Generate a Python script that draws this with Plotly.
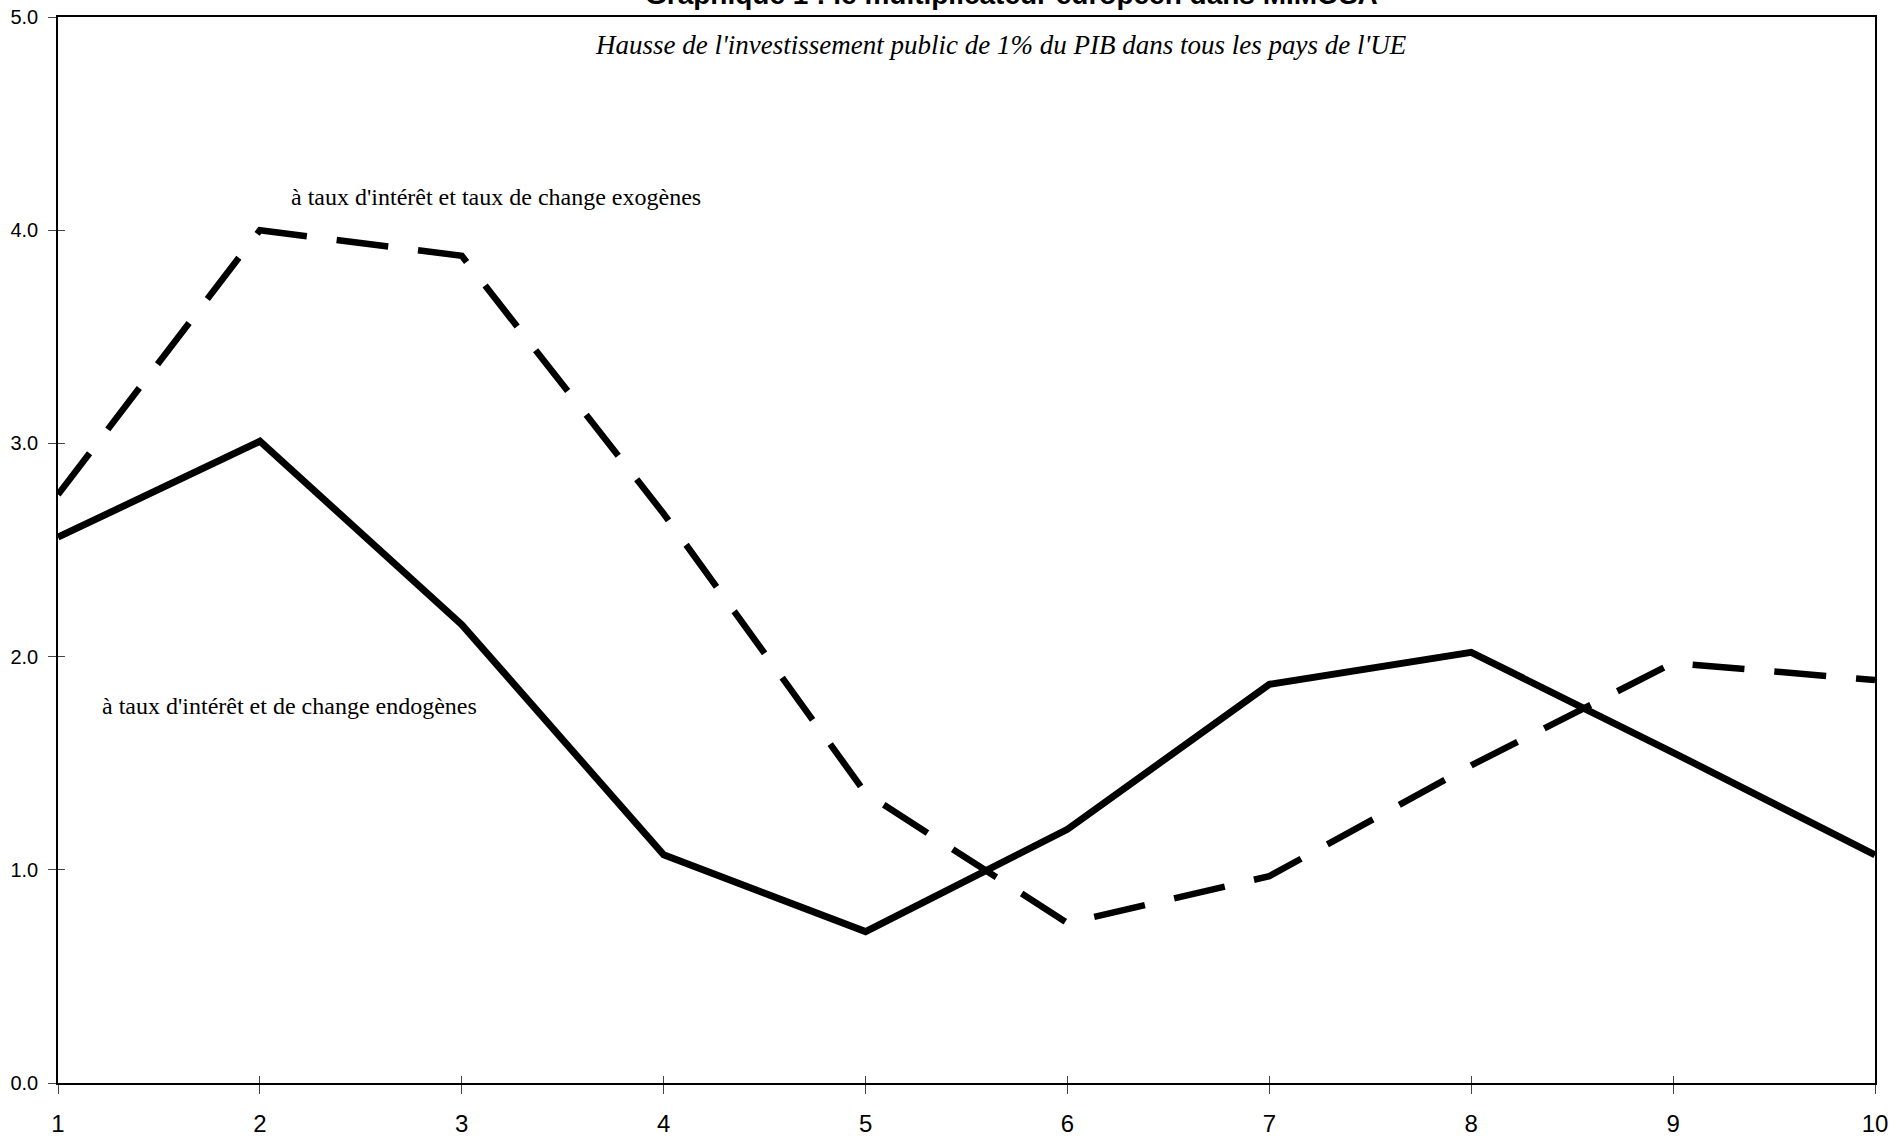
import plotly.graph_objects as go

# Years after the shock
periods = [1, 2, 3, 4, 5, 6, 7, 8, 9, 10]
# Multiplier with endogenous interest and exchange rates
endogenous = [2.56, 3.01, 2.15, 1.07, 0.71, 1.19, 1.87, 2.02, 1.55, 1.07]
# Multiplier with exogenous interest and exchange rates
exogenous = [2.76, 4.00, 3.88, 2.67, 1.36, 0.75, 0.97, 1.49, 1.97, 1.89]

y_ticks = [0, 1, 2, 3, 4, 5]

title_text = "Graphique 1 : le multiplicateur européen dans MIMOSA"
subtitle_text = "Hausse de l'investissement public de 1% du PIB dans tous les pays de l'UE"
label_exo = "à taux d'intérêt et taux de change exogènes"
label_endo = "à taux d'intérêt et de change endogènes"

fig = go.Figure()

fig.add_trace(go.Scatter(
    x=periods, y=exogenous, mode="lines",
    line=dict(color="black", width=6.5, dash="52px,30px"),
    showlegend=False, hoverinfo="skip",
))
fig.add_trace(go.Scatter(
    x=periods, y=endogenous, mode="lines",
    line=dict(color="black", width=7),
    showlegend=False, hoverinfo="skip",
))

serif = "Liberation Serif, Times New Roman, serif"
sans = "Liberation Sans, Arial, sans-serif"

fig.add_annotation(x=2.144, y=4.156, xref="x", yref="y", text=label_exo,
                   showarrow=False, xanchor="left", yanchor="middle",
                   font=dict(family=serif, size=24, color="black"))
fig.add_annotation(x=1.208, y=1.768, xref="x", yref="y", text=label_endo,
                   showarrow=False, xanchor="left", yanchor="middle",
                   font=dict(family=serif, size=24, color="black"))
fig.add_annotation(x=0.519, y=0.9737, xref="paper", yref="paper",
                   text="<i>" + subtitle_text + "</i>",
                   showarrow=False, xanchor="center", yanchor="middle",
                   font=dict(family=serif, size=27, color="black"))
fig.add_annotation(x=0.525, y=1.005, xref="paper", yref="paper",
                   text="<b>" + title_text + "</b>",
                   showarrow=False, xanchor="center", yanchor="bottom",
                   font=dict(family=sans, size=28, color="black"))

axis_common = dict(showgrid=False, zeroline=False, linecolor="black",
                   linewidth=1.5, automargin=False)

fig.update_layout(
    width=1903, height=1141,
    margin=dict(l=58, r=28, t=17, b=58),
    paper_bgcolor="white", plot_bgcolor="white",
    xaxis=dict(range=[1, 10], tickmode="array", tickvals=periods,
               ticks="outside", ticklen=9, tickwidth=1.2, tickcolor="#444",
               mirror=True, ticklabelstandoff=9,
               tickfont=dict(family=sans, size=24, color="black"),
               **axis_common),
    yaxis=dict(range=[0, 5], tickmode="array", tickvals=y_ticks, tickformat=".1f",
               ticks="outside", ticklen=8, tickwidth=1.2, tickcolor="#444",
               mirror=True, ticklabelstandoff=6,
               tickfont=dict(family=sans, size=20, color="black"),
               **axis_common),
    # overlay axes that draw the inner half of the crossing tick marks
    xaxis2=dict(range=[1, 10], overlaying="x", side="bottom", tickmode="array",
                tickvals=periods, ticks="inside", ticklen=7, tickwidth=1.2,
                tickcolor="#444", showticklabels=False, showgrid=False,
                zeroline=False, showline=False, automargin=False),
    yaxis2=dict(range=[0, 5], overlaying="y", side="left", tickmode="array",
                tickvals=y_ticks, ticks="inside", ticklen=7, tickwidth=1.2,
                tickcolor="#444", showticklabels=False, showgrid=False,
                zeroline=False, showline=False, automargin=False),
)

# invisible trace so the overlay axes are rendered
fig.add_trace(go.Scatter(x=[1, 10], y=[0, 5], xaxis="x2", yaxis="y2",
                         mode="markers", marker=dict(opacity=0),
                         showlegend=False, hoverinfo="skip"))

fig.write_html("out.html")
